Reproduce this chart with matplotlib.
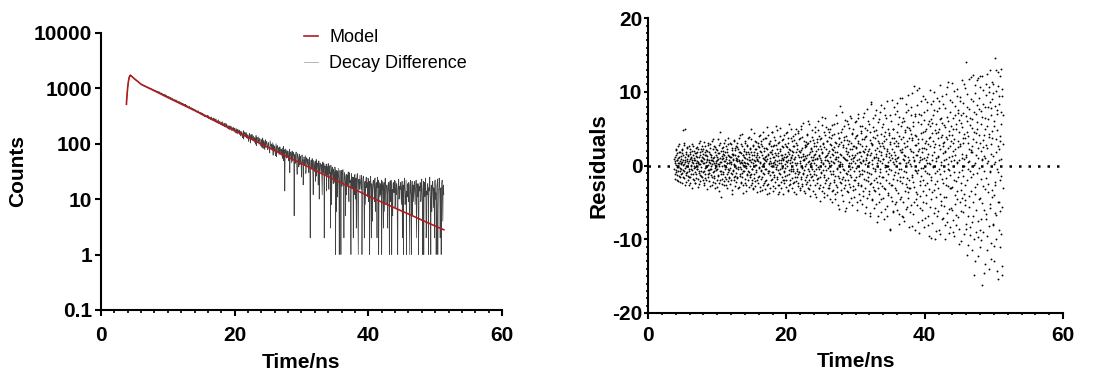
import numpy as np
import matplotlib.pyplot as plt
from matplotlib.ticker import MultipleLocator, FixedLocator, FixedFormatter, NullLocator

plt.rcParams['font.family'] = ['Liberation Sans', 'DejaVu Sans']
plt.rcParams['axes.unicode_minus'] = False

# Fitted model (time in ns, counts)
model_time = [3.8, 3.9, 4.0, 4.1, 4.2, 4.3, 4.4, 4.6, 4.8, 5.0, 5.5, 6.0, 8, 10, 12, 14,
              16, 18, 20, 22, 25, 28, 30, 33, 36, 40, 43, 46, 49, 51.3]
model_counts = [515, 780, 1060, 1330, 1540, 1680, 1720, 1640, 1560, 1480, 1330, 1180, 900,
                680, 520, 398, 300, 226, 172, 130, 86, 57, 44, 29, 19.5, 11.4, 7.8, 5.4,
                3.7, 2.8]

# Measured decay, 0.1 ns channels starting at 3.8 ns ...
decay_start = 3.8
decay_step = 0.1
decay_counts = [
    512, 785, 1052, 1338, 1549, 1690, 1735, 1702, 1655, 1612,
    1570, 1528, 1499, 1462, 1421, 1398, 1352, 1330, 1301, 1266,
    1240, 1188, 1195, 1149, 1160, 1118, 1102, 1125, 1071, 1080,
    1043, 1069, 1021, 1030, 998, 1019, 986, 967, 990, 942,
    951, 912, 925, 899, 906, 871, 884, 860, 843, 866,
    820, 808, 829, 785, 790, 769, 781, 752, 745, 760,
    702, 722, 690, 681, 695, 662, 671, 648, 660, 633,
    640, 605, 612, 598, 620, 579, 590, 566, 571, 552,
    560, 531, 548, 519, 505, 528, 497, 510, 488, 470,
    492, 458, 471, 445, 462, 431, 440, 452, 418, 425,
    430, 398, 411, 385, 402, 372, 389, 366, 379, 352,
    371, 340, 362, 331, 355, 318, 342, 309, 329, 322,
    318, 299, 328, 285, 301, 290, 276, 305, 268, 284,
    292, 259, 274, 247, 281, 250, 262, 236, 271, 229,
    255, 222, 241, 218, 250, 209, 232, 212, 226, 199,
    228, 190, 215, 197, 178, 212, 189, 201, 172, 194,
    199, 168, 186, 159, 192, 171, 150, 183, 162, 175,
    170, 141, 165, 150, 128, 172, 147, 158, 133, 160,
    151, 124, 142, 110, 155, 132, 140, 119, 147, 126,
    138, 112, 129, 98, 141, 118, 125, 104, 133, 109,
    122, 95, 115, 86, 127, 103, 111, 79, 118, 97,
    109, 84, 101, 90, 72, 113, 93, 99, 76, 104,
    96, 74, 88, 61, 100, 80, 91, 69, 85, 78,
    86, 63, 79, 70, 54, 90, 72, 14, 81, 66,
    77, 58, 72, 49, 80, 62, 70, 45, 74, 60,
    69, 5, 64, 52, 71, 40, 66, 57, 38, 62,
    60, 47, 25, 63, 51, 36, 58, 44, 61, 33,
    55, 41, 52, 30, 57, 2, 48, 37, 54, 28,
    50, 36, 47, 21, 52, 39, 44, 18, 49, 34,
    45, 31, 42, 12, 47, 35, 2, 40, 28, 43,
    39, 27, 44, 15, 37, 30, 41, 8, 36, 25,
    35, 24, 38, 1, 33, 27, 11, 36, 22, 31,
    32, 1, 29, 20, 34, 14, 30, 24, 5, 28,
    27, 18, 31, 9, 26, 22, 1, 29, 16, 24,
    25, 12, 28, 19, 3, 26, 21, 1, 23, 17,
    22, 15, 27, 7, 24, 18, 2, 21, 13, 25,
    20, 11, 23, 16, 1, 22, 14, 19, 4, 21,
    18, 9, 24, 13, 20, 2, 17, 22, 10, 15,
    19, 12, 1, 21, 14, 18, 6, 23, 11, 16,
    17, 3, 20, 13, 18, 9, 22, 1, 15, 19,
    14, 18, 7, 21, 12, 16, 1, 19, 10, 17,
    20, 11, 15, 2, 18, 13, 24, 8, 16, 1,
    14, 19, 9, 17, 1, 22, 12, 15, 5, 18,
    13, 21, 8, 16, 2, 19, 11, 1, 17, 14,
    18, 10, 23, 7, 15, 1, 20, 12, 16, 3,
    12, 19, 1, 14, 25, 9, 17, 6, 21, 11,
    16, 2, 22, 13, 8, 19, 1, 15, 24, 10,
    14, 1, 20, 9, 17, 12,
]
# ... and the channels in between, starting at 3.85 ns
decay_start_b = 3.85
decay_counts_b = [
    650, 920, 1195, 1450, 1630, 1722, 1728, 1680, 1630, 1590,
    1551, 1515, 1478, 1445, 1410, 1372, 1345, 1314, 1288, 1252,
    1216, 1201, 1170, 1172, 1135, 1140, 1095, 1088, 1099, 1058,
    1062, 1034, 1045, 1008, 1012, 995, 975, 981, 955, 961,
    930, 937, 905, 918, 885, 892, 866, 875, 851, 838,
    832, 815, 796, 809, 778, 772, 761, 770, 738, 749,
    729, 708, 716, 686, 700, 672, 683, 655, 667, 641,
    622, 630, 601, 615, 590, 603, 575, 584, 560, 578,
    545, 555, 524, 538, 512, 520, 501, 493, 515, 478,
    475, 483, 466, 452, 470, 438, 447, 429, 436, 410,
    416, 405, 420, 392, 394, 381, 376, 395, 360, 371,
    352, 366, 336, 349, 327, 345, 314, 333, 305, 317,
    311, 322, 293, 310, 280, 296, 272, 289, 277, 262,
    266, 283, 252, 268, 243, 260, 256, 232, 249, 240,
    238, 230, 246, 214, 227, 221, 204, 236, 205, 216,
    209, 203, 184, 206, 195, 183, 205, 176, 188, 181,
    180, 191, 163, 178, 155, 181, 166, 158, 172, 147,
    158, 137, 161, 144, 154, 121, 163, 140, 149, 127,
    137, 145, 117, 136, 128, 103, 146, 121, 131, 113,
    125, 106, 120, 114, 92, 131, 108, 116, 97, 124,
    108, 90, 119, 100, 82, 114, 96, 106, 85, 110,
    96, 78, 105, 87, 68, 101, 82, 95, 88, 62,
    85, 91, 70, 82, 58, 93, 75, 83, 64, 88,
    74, 80, 60, 84, 67, 49, 78, 64, 73, 55,
    68, 74, 52, 66, 30, 71, 55, 67, 48, 70,
    58, 63, 44, 67, 50, 28, 60, 49, 65, 42,
    55, 39, 61, 46, 18, 57, 40, 52, 29, 56,
    48, 53, 33, 50, 42, 22, 51, 35, 46, 12,
    43, 31, 48, 38, 26, 45, 33, 41, 10, 44,
    38, 42, 24, 39, 30, 44, 20, 36, 33, 14,
    34, 37, 21, 40, 29, 3, 35, 26, 38, 19,
    30, 20, 34, 26, 6, 32, 23, 29, 1, 33,
    27, 33, 17, 28, 22, 2, 30, 19, 26, 12,
    23, 28, 14, 30, 20, 7, 27, 17, 25, 2,
    21, 26, 10, 24, 17, 29, 4, 22, 15, 27,
    18, 23, 1, 20, 26, 12, 19, 8, 24, 16,
    17, 24, 9, 21, 15, 26, 2, 18, 13, 22,
    15, 21, 6, 19, 12, 25, 16, 1, 20, 11,
    16, 22, 10, 17, 3, 20, 13, 24, 8, 18,
    12, 18, 15, 1, 21, 10, 17, 14, 5, 20,
    13, 22, 9, 16, 19, 2, 14, 23, 11, 15,
    17, 8, 21, 12, 1, 19, 14, 10, 22, 13,
    11, 16, 20, 4, 18, 13, 1, 21, 15, 9,
    18, 12, 15, 22, 6, 14, 19, 3, 16, 20,
    9, 17, 13, 1, 21, 15, 11, 24, 2, 14,
    19, 8, 16, 22, 12, 1, 18, 14, 20, 7,
    13, 21, 10, 1, 17, 23, 6, 15, 19, 2,
    16, 11, 22, 4, 18,
]

# Weighted residuals, 0.05 ns apart starting at 3.8 ns ...
resid_start = 3.8
resid_step = 0.05
residuals = [
    -0.4, 1.2, -1.8, 0.6, 2.3, -0.9, 0.1, 1.7, -1.3, 0.8, -0.2, 2.6, -2.1, 0.4, 1.1, -0.7, 1.9, -1.5, 0.3, 0.9,
    -1.1, 2.1, 0.5, -2.4, 4.8, 1.4, -0.6, 0.2, -1.7, 2.8, 0.7, -0.3, 5.0, -1.0, 1.6, -2.2, 0.9, 0.0, 2.4, -1.4,
    1.3, -0.8, -2.7, 0.6, 1.8, -1.6, 2.2, 0.1, -0.5, 1.0, -3.1, 0.7, 2.9, -1.2, 0.4, 1.5, -1.9, -0.1, 2.0, -0.9,
    0.8, -2.3, 1.7, 0.3, -1.1, 2.5, -0.4, 1.2, -1.8, 0.5, 3.0, -0.7, -2.5, 1.9, 0.2, -1.3, 2.3, 0.6, -0.2, 1.1,
    -1.5, 2.7, 0.4, -0.9, 1.6, -2.6, 0.9, 3.2, -0.3, 1.4, -1.7, 0.0, 2.1, -2.0, 0.7, 1.3, -0.6, 2.8, -1.2, 0.5,
    1.8, -1.0, 0.3, -2.8, 2.4, 0.8, -0.4, 1.5, -1.6, 3.4, 0.2, -2.2, 1.0, 0.6, -0.8, 2.6, -1.4, 0.1, 1.9, -3.0,
    0.4, 2.2, -1.9, 1.1, -0.5, 0.9, 3.6, -1.3, 0.2, -2.4, 1.7, 4.5, -0.7, 0.5, -4.3, 2.0, -1.1, 1.3, 0.0, -1.8,
    2.5, -0.9, 1.0, -2.1, 0.6, 3.1, -1.5, 1.8, -0.2, 0.9, -2.7, 2.3, 0.3, -1.2, 1.4, -0.4, 3.8, -1.7, 0.7, -0.6,
    1.2, -2.5, 0.5, 2.9, -1.0, 0.2, 1.6, -3.3, 2.1, -0.8, 0.9, 1.5, -1.9, 3.5, 0.1, -1.4, 2.4, -0.3, 1.0, -2.2,
    0.6, 3.0, -1.6, 1.3, -0.5, 2.2, -2.9, 0.8, 1.9, -1.2, 4.1, -0.2, 0.5, -2.4, 1.7, 2.6, -1.0, 0.3, -3.7, 1.4,
    -0.7, 2.0, 1.1, -1.8, 3.3, 0.4, -2.6, 1.6, -0.1, 2.8, -1.3, 0.9, 1.8, -2.0, 0.2, 3.9, -0.9, 1.2, -1.5, 0.7,
    2.3, -1.1, 0.5, 4.9, -2.3, 1.4, -0.4, 2.7, -3.2, 0.8, 1.9, -1.7, 3.4, 0.1, -2.8, 1.1, 2.2, -0.6, 0.9, -1.9,
    1.5, 3.1, -2.4, 0.6, -0.3, 2.5, -1.4, 4.2, 0.3, -3.5, 1.8, -0.8, 2.9, 0.0, -1.6, 3.6, 1.0, -2.7, 0.4, 2.0,
    -1.2, 0.7, 3.8, -2.1, 1.3, -0.5, 2.4, -3.9, 0.9, 5.2, -1.0, 1.6, -2.5, 0.2, 3.0, -0.7, 1.9, -3.0, 0.6, 2.6,
    0.3, -1.8, 2.1, 4.6, -0.9, 1.2, -3.4, 0.5, 2.8, -1.3, 0.8, 3.5, -2.2, 1.5, -0.2, 5.3, -1.5, 0.1, 2.3, -3.8,
    1.7, -0.6, 3.2, -2.6, 0.4, 2.0, -1.1, 4.0, 0.7, -3.1, 1.4, -0.3, 2.7, -1.9, 0.9, 3.6, -0.8, 1.1, -2.4, 0.2,
    2.9, -1.4, 0.6, 4.4, -2.0, 1.3, -0.1, 2.5, -3.3, 0.8, 3.8, -1.2, 1.6, -2.7, 0.3, 2.1, 5.0, -0.5, 1.0, -1.7,
    0.5, 3.4, -2.3, 1.8, -0.7, 2.6, -3.6, 0.9, 4.3, -1.0, 1.2, -2.1, 3.0, 0.1, -1.5, 2.2, -0.4, 4.7, -2.8, 1.4,
    -0.9, 2.0, 0.4, -3.0, 3.7, 1.1, -1.8, 5.4, -0.3, 2.4, -2.5, 0.7, 1.6, -1.2, 3.3, -0.6, 0.9, -3.7, 2.8, 1.3,
    2.6, -1.6, 0.2, 4.1, -2.2, 1.5, -0.5, 3.1, -3.2, 0.6, 5.7, -1.1, 1.9, -2.6, 0.4, 2.3, -0.2, 3.9, -1.4, 0.8,
    -2.0, 1.2, 3.5, -0.8, 0.3, 2.7, -3.9, 1.6, 4.5, -1.3, 0.1, 2.0, -2.4, 3.2, 0.9, -1.7, 4.8, -0.4, 1.4, -3.1,
    1.0, 3.6, -2.7, 0.5, 2.2, -1.0, 6.6, -3.5, 1.8, -0.6, 3.0, 0.2, -4.2, 2.5, -1.5, 4.1, 0.7, -2.3, 1.3, 5.2,
    -1.9, 0.8, 3.4, -3.0, 1.7, -0.3, 4.6, -2.6, 0.4, 2.9, -4.6, 1.1, 3.8, -1.2, 0.6, 2.3, -3.4, 5.5, -0.7, 1.5,
    2.1, -2.2, 0.3, 4.3, -1.4, 1.9, -3.8, 3.1, 0.9, -0.5, 5.8, -2.9, 1.2, -5.3, 2.6, 0.1, 3.7, -1.7, 8.1, -0.9,
    0.5, 3.2, -2.4, 1.4, -4.0, 4.9, 0.2, -1.6, 2.8, -0.4, 3.9, -3.1, 1.0, 6.2, -2.0, 0.7, -5.8, 2.4, 1.6, -1.1,
    3.5, -0.7, 1.8, -3.6, 5.1, 0.4, -2.5, 2.2, 6.7, -1.3, 0.9, -4.4, 3.0, 1.5, -0.2, 4.4, -2.8, 0.6, 2.7, -1.9,
    1.1, 5.9, -3.2, 0.3, 2.5, -1.5, 4.0, -5.0, 1.7, 0.0, 3.3, -2.3, 6.4, -0.8, 1.9, -3.9, 2.9, 0.5, -1.2, 4.7,
    -2.6, 1.3, 3.6, -0.6, 5.4, -4.1, 0.8, 2.0, -1.8, 7.1, 0.2, -3.0, 3.9, 1.0, -5.6, 2.6, -0.9, 4.8, 1.6, -2.1,
    0.4, 6.0, -3.5, 2.3, -1.0, 4.5, -6.4, 1.4, 3.1, -2.4, 8.6, 0.7, -4.7, 2.8, -0.3, 5.2, -1.9, 1.1, -3.3, 3.7,
    -0.8, 2.1, 7.5, -5.2, 1.6, -2.2, 4.2, 0.3, -6.8, 3.4, 1.0, -1.4, 6.3, -3.9, 2.6, 0.6, -0.5, 8.2, -4.5, 1.8,
    3.0, -2.8, 0.9, 5.7, -1.6, 2.4, -7.3, 4.0, 0.1, -3.2, 6.8, 1.3, -0.7, 3.6, -5.5, 2.0, 8.7, -1.1, 0.5, -4.0,
    4.4, -0.4, 1.7, -8.8, 3.2, 0.8, -2.6, 6.1, -4.8, 2.2, 1.0, 5.0, -1.8, -6.1, 3.8, 0.2, 7.9, -3.0, 1.5, -0.9,
    2.7, -5.0, 0.6, 4.6, -2.0, 8.5, 1.2, -3.7, 3.0, -0.5, 6.6, -6.6, 2.1, 0.4, -1.5, 5.4, -4.3, 1.8, 9.1, -2.4,
    0.9, 3.9, -7.0, 1.5, -0.8, 6.0, -3.4, 2.5, 4.8, -5.9, 0.3, 7.2, -1.7, 3.3, -2.9, 1.1, 9.6, -4.4, 0.7, 5.1,
    -3.1, 2.3, -6.3, 4.3, 0.0, 8.0, -1.3, 3.5, -8.2, 1.9, 5.9, -2.2, 0.8, 10.8, -4.9, 2.8, -0.6, 6.7, -3.6, 1.4,
    4.0, -1.0, 10.2, -5.4, 2.0, -7.6, 3.6, 0.5, 7.0, -2.7, 1.2, -4.1, 5.6, -0.3, 8.8, -6.0, 2.4, 0.9, -1.9, 4.6,
    -3.5, 6.2, 1.0, -8.4, 3.1, -0.7, 9.0, -5.1, 2.2, 4.9, -2.4, 0.4, 7.6, -6.9, 1.6, 3.8, -1.2, -9.6, 5.3, 0.2,
    2.6, -4.6, 8.3, -1.6, 0.7, 5.8, -7.8, 3.3, -0.2, 6.9, -3.3, 1.9, 10.0, -5.7, 2.9, -1.0, 4.4, -8.9, 0.6, 7.4,
    -2.1, 3.7, -6.2, 1.3, 8.7, -0.5, 5.0, -9.3, 2.3, -3.9, 6.5, 0.1, -5.3, 4.1, 9.4, -1.8, 2.7, -7.1, 3.0, -0.8,
    5.5, -4.2, 1.8, 7.8, -8.0, 0.9, 3.9, -2.6, 10.6, -6.5, 2.4, -0.4, 6.0, -9.2, 1.1, 4.7, -3.0, 8.9, -1.3, 3.4,
    -5.8, 0.6, 11.2, -2.9, 4.2, -7.4, 2.0, 6.4, -0.9, -9.5, 3.6, 8.1, -4.0, 1.4, -6.7, 5.6, 0.3, 10.4, -3.5, 2.5,
    7.1, -1.5, -8.6, 4.5, 0.8, 9.3, -5.0, 2.9, -2.3, 6.8, -10.2, 1.6, 5.2, -0.6, 8.5, -6.3, 3.1, -3.8, 11.0, 0.0,
    -4.7, 3.8, 14.1, -7.9, 1.2, 6.1, -2.0, 9.7, -10.8, 4.0, 0.5, -5.6, 7.7, 2.3, -8.3, 5.5, -0.7, 12.0, -3.4, 1.9,
    6.3, -11.5, 2.7, 8.8, -1.1, -6.8, 4.6, -14.8, 10.9, 0.4, -3.9, 7.0, -9.0, 3.2, 11.6, -2.5, 5.9, -7.5, 1.0, -12.3,
    9.2, -0.3, 4.1, -8.7, 12.1, -4.4, 2.0, 7.4, -10.1, 0.9, 6.6, -16.2, 3.5, -2.8, 10.3, -6.0, 1.3, 8.0, -13.3, 4.9,
    -1.7, 11.1, -7.2, 5.4, -9.6, 2.4, 7.9, -3.6, 0.6, 10.6, -14.0, 4.3, -5.2, 8.6, -0.9, 6.9, -10.5, 2.9, 11.4, -4.3,
    3.7, -8.1, 9.9, 0.2, -12.9, 6.0, -2.2, 14.6, -6.4, 1.8, 10.1, -9.9, 4.8, -0.5, 7.6, -15.4, 2.6, 12.7, -4.9, 0.7,
    8.4, -11.0, 3.3, -6.2, 13.1, -1.4, 5.7, -13.6, 9.5, -3.0, 6.8,
]
# ... and the points in between, starting at 3.825 ns
resid_start_b = 3.825
residuals_b = [
    0.9, 0.3, -1.2, -0.6, 1.5, 2.1, -0.2, -1.9, 0.7, 1.0, -0.8, 0.4, 1.8, 2.9, -1.4, -0.3, 0.6, -2.2, 1.3, 0.2,
    -0.5, 1.7, 2.2, -1.0, -1.6, 0.8, 0.1, 3.1, -0.7, -2.6, 1.1, 0.5, -0.1, 1.9, -1.3, 2.5, 0.6, -0.9, -2.0, 1.4,
    0.3, 2.6, -1.5, -0.4, 0.9, 1.6, -2.3, 0.0, 1.2, -1.1, 2.0, 0.5, -0.6, -1.8, 2.7, 1.0, -0.3, 0.8, -2.4, 1.7,
    -0.2, 1.3, 2.4, -1.7, 0.6, -0.5, 1.9, -2.9, 0.4, 2.2, 1.1, -1.0, 0.2, -2.1, 1.5, 3.3, -0.8, 0.7, -1.4, 2.0,
    0.6, -1.9, 1.0, 2.3, -0.7, 0.3, -2.4, 1.8, 2.6, -1.1, 0.5, -0.2, 1.4, -3.2, 0.9, 2.0, -1.5, 0.1, 3.0, -0.6,
    -2.1, 0.8, 1.6, -0.4, 2.9, 0.0, -1.3, 1.2, -2.7, 0.7, 2.2, -0.9, 3.6, 0.4, -1.7, 1.1, -0.3, 2.5, -2.3, 0.6,
    1.4, -0.6, -2.9, 2.1, 0.8, -1.4, 1.7, 0.2, -3.5, 2.8, -0.1, 1.0, -1.9, 3.1, 0.5, -0.8, 2.4, -2.5, 0.9, 1.6,
    -1.2, 2.0, 0.1, -2.6, 1.5, 3.5, -0.5, 0.6, -1.8, 2.6, 1.2, -3.0, 0.3, 1.9, -0.9, 2.9, -2.1, 0.4, 1.3, -1.5,
    3.0, -0.3, 1.1, -2.0, 0.5, 2.4, -1.2, -3.8, 1.6, 0.7, -0.6, 3.3, -1.6, 0.2, 2.1, -2.8, 1.4, 0.8, -1.0, 2.7,
    -1.7, 0.9, 2.5, -0.2, 1.3, -3.1, 0.6, 3.7, -1.4, 0.3, 1.8, -2.2, 2.9, -0.5, 0.8, -1.6, 4.3, 0.1, -2.6, 1.5,
    2.2, -0.8, 0.5, 3.1, -2.4, 1.0, -0.3, 1.9, -3.4, 2.6, 0.4, -1.1, 3.8, -0.7, 1.6, -2.9, 0.8, 2.4, -1.3, 0.0,
    -2.7, 1.8, 3.6, -0.5, 0.9, -1.9, 2.8, 0.3, -3.0, 1.4, 4.4, -1.2, 0.6, 2.3, -2.1, 0.1, 3.2, -0.9, 1.7, -3.6,
    0.7, 2.6, -1.5, 4.0, -0.2, 1.2, -2.9, 2.0, 0.5, -1.8, 3.4, -0.6, 1.5, -3.3, 2.7, 0.2, -1.0, 4.6, -2.3, 0.9,
    2.4, -3.2, 1.1, -0.4, 3.7, 0.6, -1.9, 2.2, -2.6, 1.4, 4.1, -0.8, 0.3, -3.7, 2.9, 1.0, -1.3, 3.3, -0.1, 1.8,
    -2.0, 1.6, 4.5, -0.9, 0.4, -2.8, 2.6, 1.1, -1.6, 3.9, 0.2, -3.0, 1.7, 2.8, -0.5, -1.8, 4.8, 0.6, -2.6, 1.3,
    3.0, -1.0, 0.8, -3.6, 2.2, 5.1, -0.4, 1.5, -2.2, 0.4, 3.5, -1.6, 1.0, -3.9, 2.5, 0.7, -0.9, 4.2, -2.0, 1.6,
    -0.3, 2.7, -2.9, 1.2, 4.6, -1.3, 0.5, 3.1, -3.4, 1.8, -0.6, 2.3, 5.6, -1.9, 0.8, -2.5, 3.7, 1.1, -0.8, 2.0,
    -3.1, 1.5, 4.0, -0.4, 2.6, -2.2, 0.9, 3.5, -1.5, 0.3, 5.0, -3.8, 1.9, -0.7, 2.8, 0.4, -2.4, 4.4, -1.1, 1.2,
    3.6, -0.9, 1.8, -3.3, 0.6, 4.9, -1.6, 2.1, -0.2, -2.8, 3.9, 1.3, -1.0, 5.8, -3.5, 0.8, 2.5, -1.9, 0.0, 3.2,
    -2.5, 1.0, 4.3, -1.3, 2.9, -3.0, 0.5, 6.1, -0.7, 1.6, -2.0, 3.4, 0.2, -4.1, 2.4, 1.2, -1.5, 4.8, -0.4, 2.0,
    0.7, -3.4, 3.0, 1.5, -1.1, 5.2, -2.6, 0.9, 2.7, -0.5, -4.3, 3.6, 1.0, -1.8, 6.0, -0.2, 2.2, -3.0, 1.3, 4.0,
    -1.6, 2.6, -4.8, 0.8, 3.8, -0.9, 1.7, 5.5, -2.9, 0.3, 2.9, -1.3, 4.6, -3.7, 1.2, 0.0, 6.5, -2.0, 2.3, -0.6,
    3.3, -4.0, 1.4, 5.0, -1.7, 0.6, -3.1, 3.9, 2.0, -0.8, 4.9, -2.4, 0.1, 2.8, -5.0, 1.6, 4.1, -1.2, 0.5, -3.3,
    2.5, 5.6, -1.9, 0.9, -4.5, 3.2, 1.1, -2.7, 6.8, -0.3, 1.8, -3.6, 4.4, 0.6, -1.4, 2.9, -5.9, 3.8, 0.2, -2.2,
    1.6, 4.6, -3.3, 0.0, 7.2, -1.8, 2.5, -4.8, 1.2, 3.5, -0.6, 5.3, -2.7, 0.9, -6.2, 2.0, 4.0, -1.0, 6.0, -3.5,
    0.8, 2.9, -2.0, 5.6, -4.9, 1.3, 3.4, -0.5, -2.9, 6.5, 0.4, -1.6, 4.3, -5.4, 2.2, 1.0, -3.3, 5.0, -0.8, 2.6,
    -4.2, 3.8, 1.5, -1.9, 6.1, -0.3, 2.4, -6.0, 4.2, 0.7, -2.6, 3.0, 7.0, -1.4, 0.9, -4.7, 5.4, 1.8, -2.8, 0.3,
    4.4, -1.1, 2.7, -5.2, 0.6, 6.6, -3.4, 1.9, 3.6, -0.7, -6.5, 2.3, 5.1, -2.0, 0.8, 4.0, -4.4, 1.4, 7.7, -1.6,
    2.0, -3.9, 5.6, 0.5, -2.5, 3.5, -6.9, 1.7, 8.3, -1.2, 2.9, -4.6, 0.2, 6.4, -2.9, 3.9, 1.0, -5.7, 4.7, -0.4,
    -3.4, 6.9, 1.2, -1.7, 4.8, -7.6, 2.4, 0.8, -3.0, 5.9, 2.0, -5.0, 3.0, -0.9, 7.3, -2.3, 1.5, -6.3, 4.3, 0.4,
    5.2, -1.5, 2.6, -4.4, 0.9, 7.8, -3.1, 3.3, -0.2, -5.9, 4.5, 1.6, -2.0, 6.5, -6.9, 2.2, 0.0, 5.0, -3.7, 1.2,
    -2.4, 4.1, -8.6, 2.9, 6.8, -0.6, 1.4, -4.3, 3.7, 8.9, -2.7, 0.5, -6.3, 4.9, 1.8, -1.3, 3.1, -5.2, 7.0, 0.9,
    3.4, -3.3, 1.0, 7.4, -6.0, 2.6, -1.0, 5.6, -7.9, 0.3, 4.0, -2.1, 9.2, -4.6, 1.9, 3.6, -0.4, -6.8, 5.9, 2.3,
    -1.6, 6.4, -4.9, 0.8, 3.0, -7.5, 4.6, 1.3, -2.5, 8.4, -0.9, 2.7, -5.6, 5.2, 0.5, -3.6, 7.5, -1.9, 3.8, -8.3,
    4.8, 0.2, -3.0, 6.9, -5.3, 2.0, 9.8, -1.5, 3.7, -6.6, 1.1, 5.4, -2.9, 0.6, -8.8, 4.2, 7.0, -0.8, 2.8, -4.5,
    1.5, 8.2, -3.9, 3.1, -0.6, 5.9, -9.1, 2.2, 10.5, -2.1, 0.8, -5.7, 4.4, 6.8, -1.4, 1.8, -7.4, 3.6, 9.5, -0.3,
    -5.0, 2.4, 7.2, -2.6, 4.7, -7.1, 0.7, 3.3, -4.0, 8.6, 1.2, -1.0, 5.7, -8.0, 2.9, 6.1, -3.2, 0.4, 10.2, -5.6,
    3.9, -1.9, 6.3, -9.8, 1.5, 4.4, -3.6, 8.8, 0.0, -6.4, 2.5, 7.5, -2.5, 4.8, -10.0, 1.0, 5.6, -4.2, 9.1, -0.7,
    -6.9, 4.6, 1.1, -3.0, 7.8, -8.7, 2.8, 6.3, -1.2, 10.9, -4.8, 0.5, 3.9, -7.2, 5.8, 1.7, -2.3, 8.3, -5.5, 3.2,
    0.7, -9.9, 5.2, 2.0, -4.3, 9.7, -1.7, 3.6, -7.7, 6.6, 0.2, -2.8, 11.4, -5.9, 4.1, -0.6, 7.2, -8.4, 2.7, 5.4,
    -3.1, 8.6, -6.0, 1.3, 4.9, -9.0, 3.0, 10.1, -1.9, 0.8, -5.2, 6.9, 2.2, -8.1, 5.0, -2.1, 9.4, -4.6, 0.5, 7.6,
    -7.0, 3.4, -0.9, 6.2, -10.6, 2.6, 8.8, -3.3, 5.8, -6.1, 1.0, 11.6, -4.4, 3.7, -1.4, 7.1, -9.3, 0.9, 4.3, -5.4,
    10.5, -2.7, 6.7, -8.6, 1.4, 4.5, -12.1, 8.0, -0.4, 3.0, -6.9, 11.8, 0.6, -4.1, 6.4, -9.4, 2.1, 9.0, -1.6, 5.1,
    -7.6, 1.8, 12.3, -4.9, 3.6, -10.0, 7.2, 0.1, -2.9, 9.9, -13.0, 4.4, 1.5, -6.0, 8.2, -1.0, 5.0, -9.7, 11.9, 2.4,
    -4.6, 7.7, -11.1, 3.1, 10.6, -1.8, 5.6, -7.3, 0.8, 12.2, -5.1, 2.5, -9.0, 8.4, -0.7, 4.2, -14.6, 6.5, 1.0, -3.2,
    9.6, -6.6, 2.8, 12.4, -11.4, 0.3, 6.3, -2.5, 10.0, -8.2, 3.9, -0.8, 13.0, -5.8, 1.6, -12.7, 7.8, -3.3, 4.7, 9.0,
    -7.9, 1.3, 11.0, -4.0, 5.3, -10.9, 8.1, 0.5, -2.6, 12.9, -6.7, 3.6, -14.3, 7.0, -0.9, 10.8, -5.0, 2.2, 9.4, -8.8,
    4.0, -2.0, 12.2, -9.3, 0.9, 7.3, -5.6, 10.4, -14.8, 2.9,
]

log_ticks = [0.1, 1, 10, 100, 1000, 10000]
log_labels = ['0.1', '1', '10', '100', '1000', '10000']

# channel times
t_a = decay_start + decay_step * np.arange(len(decay_counts))
t_b = decay_start_b + decay_step * np.arange(len(decay_counts_b))
decay_time = np.concatenate([t_a, t_b])
decay_all = np.concatenate([decay_counts, decay_counts_b])
order = np.argsort(decay_time)
decay_time, decay_all = decay_time[order], decay_all[order]

r_a = resid_start + resid_step * np.arange(len(residuals))
r_b = resid_start_b + resid_step * np.arange(len(residuals_b))
resid_time = np.concatenate([r_a, r_b])
resid_all = np.concatenate([residuals, residuals_b])

fig = plt.figure(figsize=(11.15, 3.78), dpi=100)
ax1 = fig.add_axes([0.0906, 0.180, 0.3596, 0.733])
ax2 = fig.add_axes([0.5812, 0.172, 0.3722, 0.780])


def style_axes(ax):
    for side in ['top', 'right']:
        ax.spines[side].set_visible(False)
    for side in ['left', 'bottom']:
        ax.spines[side].set_linewidth(1.5)
    ax.tick_params(which='major', direction='out', length=4.5, width=1.5,
                   labelsize=15, pad=2)
    ax.tick_params(which='minor', direction='out', length=2.2, width=1.2)
    for lab in ax.get_xticklabels() + ax.get_yticklabels():
        lab.set_fontweight('bold')


# --- Decay ---
ax1.plot(decay_time, decay_all, color='black', lw=0.5, alpha=0.75,
         label='Decay Difference')
ax1.plot(model_time, model_counts, color='#b01c1c', lw=1.2, label='Model')
ax1.set_yscale('log')
ax1.set_ylim(0.1, 10000)
ax1.set_xlim(0, 60)
ax1.yaxis.set_major_locator(FixedLocator(log_ticks))
ax1.yaxis.set_major_formatter(FixedFormatter(log_labels))
ax1.yaxis.set_minor_locator(NullLocator())
ax1.xaxis.set_major_locator(MultipleLocator(20))
ax1.xaxis.set_minor_locator(MultipleLocator(2))
ax1.set_xlabel('Time/ns', fontsize=15, fontweight='bold', labelpad=6)
ax1.set_ylabel('Counts', fontsize=15, fontweight='bold', labelpad=5)
style_axes(ax1)
ax1.tick_params(axis='x', which='major', pad=7)

handles, labels = ax1.get_legend_handles_labels()
leg = ax1.legend(handles[::-1], labels[::-1], loc='upper left',
                 bbox_to_anchor=(304 / 1115, 1 - 29 / 378),
                 bbox_transform=fig.transFigure, frameon=False, fontsize=13,
                 handlelength=0.8, handletextpad=0.6, labelspacing=0.5,
                 borderpad=0, borderaxespad=0)
leg.get_lines()[1].set_color('#999999')
leg.get_lines()[1].set_alpha(1)

# --- Residuals ---
ax2.scatter(resid_time, resid_all, s=1.8, color='black', linewidths=0)
ax2.axhline(0, color='black', lw=1.8, linestyle=(0, (1, 2.8)))
ax2.set_xlim(0, 60)
ax2.set_ylim(-20, 20)
ax2.xaxis.set_major_locator(MultipleLocator(20))
ax2.xaxis.set_minor_locator(MultipleLocator(2))
ax2.yaxis.set_major_locator(MultipleLocator(10))
ax2.yaxis.set_minor_locator(MultipleLocator(1))
ax2.set_xlabel('Time/ns', fontsize=15, fontweight='bold', labelpad=5)
ax2.set_ylabel('Residuals', fontsize=16, fontweight='bold', labelpad=2)
style_axes(ax2)
ax2.tick_params(axis='y', which='major', length=3, pad=1)
ax2.tick_params(axis='x', which='major', pad=5)
ax2.tick_params(which='minor', length=1.5, width=1.2)

fig.savefig('out.png', dpi=100)
